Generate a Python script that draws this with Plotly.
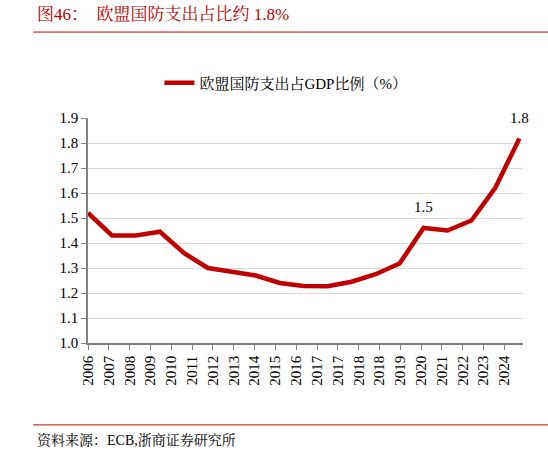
import plotly.graph_objects as go

years = [2006, 2007, 2008, 2009, 2010, 2011, 2012, 2013, 2014, 2015,
         2016, 2017, 2018, 2019, 2020, 2021, 2022, 2023, 2024]
share = [1.52, 1.43, 1.43, 1.445, 1.36, 1.30, 1.285, 1.27, 1.24, 1.228,
         1.227, 1.245, 1.275, 1.318, 1.46, 1.45, 1.49, 1.622, 1.818]

# the source uses a date axis, so the labels don't sit on the data points
tick_labels = ["2006", "2007", "2008", "2009", "2010", "2011", "2012", "2013",
               "2014", "2015", "2016", "2017", "2017", "2018", "2018", "2019",
               "2020", "2021", "2022", "2023", "2024"]

labelled_years = [2020, 2024]
label_text = ["1.5", "1.8"]

title = "图46：  欧盟国防支出占比约 1.8%"
source = "资料来源：ECB,浙商证券研究所"
series_name = "欧盟国防支出占GDP比例（%）"

RED = "#c00000"
FONT = "Liberation Serif, Times New Roman, Noto Serif CJK SC, Noto Sans CJK SC"


def plot():
    fig = go.Figure()
    fig.add_trace(go.Scatter(x=years, y=share, mode="lines", name=series_name,
                             line=dict(color=RED, width=4.5)))

    step = 17.375 / (len(tick_labels) - 1)
    tickvals = [years[0] + i * step for i in range(len(tick_labels))]

    for yr, txt in zip(labelled_years, label_text):
        fig.add_annotation(x=yr, y=share[years.index(yr)], text=txt, showarrow=False,
                           yshift=21, font=dict(size=15, color="black", family=FONT))

    # title / source + red rules
    fig.add_annotation(x=-0.122, y=1.462, xref="paper", yref="paper", text=title,
                       showarrow=False, xanchor="left", yanchor="middle",
                       font=dict(size=17, color=RED, family=FONT))
    fig.add_annotation(x=-0.122, y=-0.43, xref="paper", yref="paper", text=source,
                       showarrow=False, xanchor="left", yanchor="middle",
                       font=dict(size=14, color="black", family=FONT))
    fig.add_shape(type="line", xref="paper", yref="paper", x0=-0.126, x1=1.06,
                  y0=1.382, y1=1.382, line=dict(color=RED, width=1))
    fig.add_shape(type="line", xref="paper", yref="paper", x0=-0.126, x1=1.06,
                  y0=-0.364, y1=-0.364, line=dict(color=RED, width=1))

    fig.update_layout(
        width=548, height=452,
        margin=dict(l=88, r=25, t=118, b=109),
        plot_bgcolor="white", paper_bgcolor="white",
        font=dict(family=FONT, size=14, color="black"),
        showlegend=True,
        legend=dict(orientation="h", x=0.455, xanchor="center", y=1.156, yanchor="middle",
                    font=dict(size=15), bgcolor="rgba(0,0,0,0)"),
        xaxis=dict(range=[2006, 2024.15], tickmode="array", tickvals=tickvals,
                   ticktext=tick_labels, tickangle=-90, ticks="outside", ticklen=5,
                   tickcolor="#808080", showline=True, linecolor="#808080", linewidth=1.5,
                   showgrid=False, zeroline=False, tickfont=dict(size=15)),
        yaxis=dict(range=[1.0, 1.9], dtick=0.1, tickformat=".1f", ticks="outside",
                   ticklen=5, tickcolor="#808080", showline=True, linecolor="#808080",
                   linewidth=1.5, gridcolor="#d9d9d9", gridwidth=1, zeroline=False,
                   tickfont=dict(size=15)),
    )
    # page body has a default 8px margin, drop it so the chart sits at 0,0
    fig.write_html("out.html", config={"displayModeBar": False},
                   post_script="document.body.style.margin='0';")


if __name__ == "__main__":
    plot()
